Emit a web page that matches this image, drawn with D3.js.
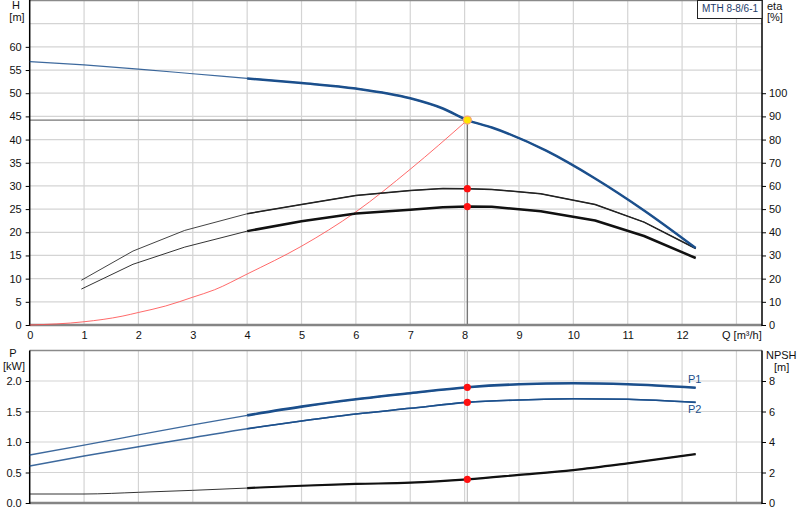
<!DOCTYPE html>
<html>
<head>
<meta charset="utf-8">
<script src="https://cdn.jsdelivr.net/npm/d3@7"></script>
<style>
  body { margin: 0; background: #fff; }
  svg { display: block; font-family: "Liberation Sans", Arial, sans-serif; }
</style>
</head>
<body>
<svg id="chart"></svg>
<script>
// pump curve data
const qHead = [0, 1, 2, 3, 4, 5, 6, 7, 7.6, 8.05, 8.5, 9.5, 10.4, 11.3, 12.25];
const head = [56.8, 56.1, 55.2, 54.2, 53.2, 52.2, 51.0, 48.9, 46.7, 44.2, 42.6, 37.6, 31.6, 24.7, 16.6];

const qEta = [0.95, 1.9, 2.85, 4, 5, 6, 7, 7.6, 8.05, 8.5, 9.4, 10.4, 11.3, 12.25];
const etaPump = [19.3, 31.9, 40.8, 48.0, 52.0, 55.9, 58.0, 58.9, 58.8, 58.5, 56.6, 52.0, 44.4, 33.0];
const etaTotal = [15.5, 26.2, 33.6, 40.5, 44.8, 48.1, 49.7, 50.8, 51.1, 51.0, 49.1, 45.1, 38.4, 28.9];

const qSystem = [0, 1, 1.7, 2, 2.5, 3, 3.4, 4, 5, 6, 7, 8.05];
const hSystem = [0, 0.7, 1.9, 2.7, 4.1, 6.0, 7.6, 11.0, 17.0, 24.4, 33.6, 44.2];

const qPower = [0, 1, 2, 3, 4, 5, 6, 7, 8.05, 9, 10, 11, 12.25];
const powerP1 = [0.787, 0.95, 1.115, 1.28, 1.437, 1.58, 1.70, 1.80, 1.897, 1.946, 1.962, 1.946, 1.89];
const powerP2 = [0.607, 0.77, 0.923, 1.07, 1.218, 1.344, 1.459, 1.552, 1.65, 1.689, 1.71, 1.70, 1.65];
const npsh = [0.59, 0.59, 0.70, 0.83, 0.98, 1.13, 1.25, 1.33, 1.55, 1.84, 2.16, 2.60, 3.21];

const dutyQ = 8.05;
const dutyH = 44.2;
const pumpName = 'MTH 8-8/6-1';

const hTicks = d3.range(0, 61, 5);
const etaTicks = d3.range(0, 101, 10);
const qTicks = d3.range(0, 13, 1);
const qGrid = d3.range(1, 14, 1);
const pTicks = [0, 0.5, 1.0, 1.5, 2.0];
const npshTicks = [0, 2, 4, 6, 8];

const width = 800;
const height = 520;
const left = 29.7;
const right = 762;
const topY0 = 325;
const topY1 = 0.5;
const botY0 = 503;
const botY1 = 350.5;
const blue = '#1b4f8c';
const grid = '#d4d4d4';

const svg = d3.select('#chart')
    .attr('width', width)
    .attr('height', height)
    .attr('viewBox', [0, 0, width, height]);

const x = d3.scaleLinear().domain([0, 13.47]).range([left, right]);
const yH = d3.scaleLinear().domain([0, 70]).range([topY0, topY1]);
const yEta = d3.scaleLinear().domain([0, 140]).range([topY0, topY1]);
const yP = d3.scaleLinear().domain([0, 2.5]).range([botY0, botY1]);
const yN = d3.scaleLinear().domain([0, 10]).range([botY0, botY1]);

// grid
const gGrid = svg.append('g').attr('stroke', grid).attr('stroke-width', 1.2);
gGrid.selectAll('line.vt')
    .data(qGrid)
    .join('line')
    .attr('x1', (d) => x(d)).attr('x2', (d) => x(d))
    .attr('y1', topY1).attr('y2', topY0);
gGrid.selectAll('line.vb')
    .data(qGrid)
    .join('line')
    .attr('class', 'vb')
    .attr('x1', (d) => x(d)).attr('x2', (d) => x(d))
    .attr('y1', botY1).attr('y2', botY0);
gGrid.selectAll('line.ht')
    .data(d3.range(5, 70, 5))
    .join('line')
    .attr('class', 'ht')
    .attr('x1', left).attr('x2', right)
    .attr('y1', (d) => yH(d)).attr('y2', (d) => yH(d));
gGrid.selectAll('line.hb')
    .data([0.5, 1.0, 1.5, 2.0])
    .join('line')
    .attr('class', 'hb')
    .attr('x1', left).attr('x2', right)
    .attr('y1', (d) => yP(d)).attr('y2', (d) => yP(d));

// frame
svg.append('line').attr('x1', left).attr('x2', right).attr('y1', topY1).attr('y2', topY1)
    .attr('stroke', '#8a8a8a').attr('stroke-width', 1.5);
svg.append('line').attr('x1', left).attr('x2', right).attr('y1', botY1).attr('y2', botY1)
    .attr('stroke', '#8a8a8a').attr('stroke-width', 1.5);

// duty point guide lines
svg.append('line')
    .attr('x1', left).attr('x2', x(dutyQ))
    .attr('y1', yH(dutyH)).attr('y2', yH(dutyH))
    .attr('stroke', '#777').attr('stroke-width', 1.2);
svg.append('line')
    .attr('x1', x(dutyQ)).attr('x2', x(dutyQ))
    .attr('y1', yH(dutyH)).attr('y2', topY0)
    .attr('stroke', '#777').attr('stroke-width', 1.4);
svg.append('line')
    .attr('x1', x(dutyQ)).attr('x2', x(dutyQ))
    .attr('y1', botY1).attr('y2', botY0)
    .attr('stroke', '#c4c4c4').attr('stroke-width', 1.2);

// axes
const axisText = (g) => g.call((s) => s.select('.domain').remove())
    .selectAll('text')
    .attr('fill', '#111')
    .style('font-size', '11px');

svg.append('g')
    .attr('transform', `translate(${left},0)`)
    .call(d3.axisLeft(yH).tickValues(hTicks).tickSize(4).tickPadding(4))
    .call(axisText);
svg.append('g')
    .attr('transform', `translate(${right},0)`)
    .call(d3.axisRight(yEta).tickValues(etaTicks).tickSize(4).tickPadding(3))
    .call(axisText);
svg.append('g')
    .attr('transform', `translate(0,${topY0})`)
    .call(d3.axisBottom(x).tickValues(qTicks).tickSize(0).tickPadding(6))
    .call(axisText);
svg.append('g')
    .attr('transform', `translate(${left},0)`)
    .call(d3.axisLeft(yP).tickValues(pTicks).tickFormat(d3.format('.1f')).tickSize(4).tickPadding(4))
    .call(axisText);
svg.append('g')
    .attr('transform', `translate(${right},0)`)
    .call(d3.axisRight(yN).tickValues(npshTicks).tickSize(4).tickPadding(3))
    .call(axisText);

// axis lines
svg.append('line').attr('x1', left).attr('x2', right).attr('y1', topY0).attr('y2', topY0)
    .attr('stroke', '#858585').attr('stroke-width', 2.5);
svg.append('line').attr('x1', left).attr('x2', right).attr('y1', botY0).attr('y2', botY0)
    .attr('stroke', '#858585').attr('stroke-width', 2.5);
[left, right].forEach((px) => {
  svg.append('line').attr('x1', px).attr('x2', px).attr('y1', 0).attr('y2', topY0 + 1)
      .attr('stroke', '#000').attr('stroke-width', 1.5);
  svg.append('line').attr('x1', px).attr('x2', px).attr('y1', botY1).attr('y2', botY0 + 1)
      .attr('stroke', '#000').attr('stroke-width', 1.5);
});

// curves
const drawCurve = (qs, vs, y, color, thin, thick, curve = d3.curveMonotoneX, fromQ = 4) => {
  const pts = qs.map((q, i) => [q, vs[i]]);
  const line = d3.line().curve(curve).x((d) => x(d[0])).y((d) => y(d[1]));
  svg.append('path')
      .attr('d', line(pts))
      .attr('fill', 'none')
      .attr('stroke', color)
      .attr('stroke-width', thin)
      .attr('stroke-opacity', 0.85);
  if (thick) {
    svg.append('path')
        .attr('d', line(pts.filter((d) => d[0] >= fromQ)))
        .attr('fill', 'none')
        .attr('stroke', color)
        .attr('stroke-width', thick)
        .attr('stroke-linejoin', 'round');
  }
};

drawCurve(qSystem, hSystem, yH, '#ff5050', 1, 0);
drawCurve(qEta, etaPump, yEta, '#222', 1, 1.5, d3.curveLinear);
drawCurve(qEta, etaTotal, yEta, '#111', 1, 2.5, d3.curveLinear);
drawCurve(qHead, head, yH, blue, 1.2, 2.5);
drawCurve(qPower, powerP2, yP, blue, 1.5, 1.6);
drawCurve(qPower, powerP1, yP, blue, 1.3, 2.6);
drawCurve(qPower, npsh.map((d) => d / 4), yP, '#111', 1, 2.2);

// duty points
const dots = [
  [yEta, etaPump[qEta.indexOf(dutyQ)]],
  [yEta, etaTotal[qEta.indexOf(dutyQ)]],
  [yP, powerP1[qPower.indexOf(dutyQ)]],
  [yP, powerP2[qPower.indexOf(dutyQ)]],
  [yP, npsh[qPower.indexOf(dutyQ)] / 4],
];
svg.append('g')
    .selectAll('circle')
    .data(dots)
    .join('circle')
    .attr('cx', x(dutyQ))
    .attr('cy', (d) => d[0](d[1]))
    .attr('r', 3.6)
    .attr('fill', '#ff1010');
svg.append('circle')
    .attr('cx', x(dutyQ))
    .attr('cy', yH(dutyH))
    .attr('r', 4)
    .attr('fill', '#ffe600')
    .attr('stroke', '#f4a07a')
    .attr('stroke-width', 1.2);

// labels
const label = (txt, px, py, anchor = 'start', color = '#111', size = 11) => svg.append('text')
    .attr('x', px).attr('y', py)
    .attr('text-anchor', anchor)
    .attr('fill', color)
    .style('font-size', size + 'px')
    .text(txt);

label('H', 16, 9, 'middle');
label('[m]', 17, 21, 'middle');
label('eta', 767, 10);
label('[%]', 767, 21);
label('Q [m³/h]', 722, 339);
label('P', 13, 357, 'middle');
label('[kW]', 14, 370, 'middle');
label('NPSH', 766, 359);
label('[m]', 774, 371);
label('P1', 688, 383, 'start', blue);
label('P2', 688, 413, 'start', blue);

svg.append('rect')
    .attr('x', 697.5).attr('y', 0.5)
    .attr('width', right - 697.5).attr('height', 18)
    .attr('fill', '#fff')
    .attr('stroke', '#222');
label(pumpName, 730, 12, 'middle', '#1d3c6a', 10);
</script>
</body>
</html>
